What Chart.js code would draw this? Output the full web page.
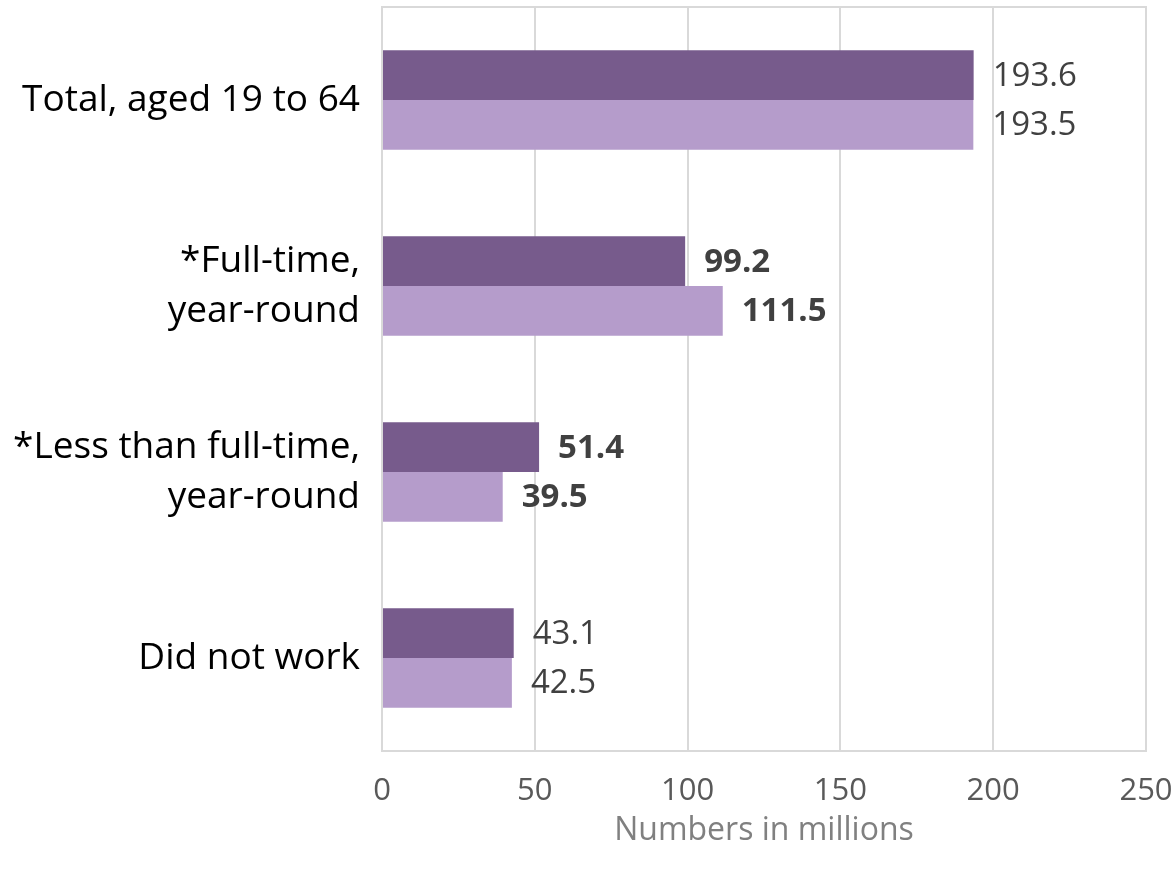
<!DOCTYPE html>
<html>
<head>
<meta charset="utf-8">
<script src="https://cdn.jsdelivr.net/npm/chart.js@4/dist/chart.umd.min.js"></script>
<style>
  html, body { margin: 0; padding: 0; background: #fff; }
  #wrap { width: 1176px; height: 872px; }
</style>
</head>
<body>
<div id="wrap"><canvas id="chart" width="1176" height="872"></canvas></div>
<script>
const categories = [
    'Total, aged 19 to 64',
    ['*Full-time,', 'year-round'],
    ['*Less than full-time,', 'year-round'],
    'Did not work'
];
const seriesDark = [193.6, 99.2, 51.4, 43.1];
const seriesLight = [193.5, 111.5, 39.5, 42.5];
const boldRows = [false, true, true, false];
const xTicks = [0, 50, 100, 150, 200, 250];

const FONT = '"Open Sans", Lato, sans-serif';

// value labels at the end of each bar
const barLabels = {
    id: 'barLabels',
    afterDatasetsDraw(chart) {
        const ctx = chart.ctx;
        ctx.save();
        ctx.fillStyle = '#404040';
        ctx.textBaseline = 'middle';
        ctx.textAlign = 'left';
        chart.data.datasets.forEach((ds, di) => {
            chart.getDatasetMeta(di).data.forEach((bar, i) => {
                ctx.font = (boldRows[i] ? 'bold ' : '') + '33px ' + FONT;
                ctx.fillText(ds.data[i].toFixed(1), bar.x + 19, bar.y + 1);
            });
        });
        ctx.restore();
    }
};

// drop the auto padding the scales ask for, so the layout padding rules
function noPad(scale) {
    scale.paddingTop = 0;
    scale.paddingBottom = 0;
    scale.paddingLeft = 0;
    scale.paddingRight = 0;
}

new Chart(document.getElementById('chart'), {
    type: 'bar',
    data: {
        labels: categories,
        datasets: [
            { label: 'Dark', data: seriesDark, backgroundColor: '#775b8c', barPercentage: 1, categoryPercentage: 0.535 },
            { label: 'Light', data: seriesLight, backgroundColor: '#b59ccb', barPercentage: 1, categoryPercentage: 0.535 }
        ]
    },
    options: {
        indexAxis: 'y',
        responsive: false,
        animation: false,
        layout: { padding: { top: 7, right: 30, left: 0, bottom: 0 } },
        plugins: {
            legend: { display: false },
            tooltip: { enabled: false }
        },
        scales: {
            x: {
                min: 0,
                max: 250,
                afterBuildTicks: (scale) => { scale.ticks = xTicks.map(v => ({ value: v })); },
                grid: { color: '#d9d9d9', lineWidth: 2, drawTicks: false },
                border: { color: '#d9d9d9', width: 2 },
                ticks: { color: '#595959', font: { family: FONT, size: 31 }, padding: 22, maxRotation: 0 },
                title: { display: true, text: 'Numbers in millions', color: '#808080', font: { family: FONT, size: 32 }, padding: { top: 6, bottom: 22 } },
                afterFit: (scale) => { scale.height = 121; noPad(scale); }
            },
            xTop: {
                position: 'top',
                min: 0,
                max: 250,
                grid: { display: false, drawTicks: false },
                border: { color: '#d9d9d9', width: 2 },
                ticks: { display: false },
                afterFit: (scale) => { scale.height = 0; noPad(scale); }
            },
            y: {
                grid: { display: false, drawTicks: false },
                border: { color: '#d9d9d9', width: 2 },
                ticks: { color: '#000000', font: { family: FONT, size: 37, lineHeight: 1.35 }, padding: 22 },
                afterFit: (scale) => { scale.width = 382; noPad(scale); }
            }
        }
    },
    plugins: [barLabels]
});
</script>
</body>
</html>
